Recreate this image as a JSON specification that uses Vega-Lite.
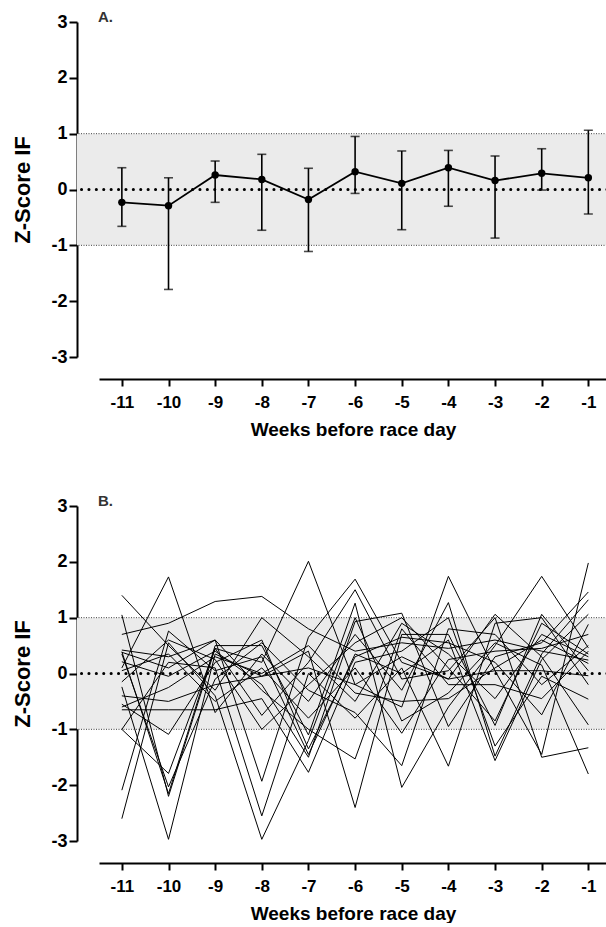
{
  "$schema": "https://vega.github.io/schema/vega-lite/v6.json",
  "background": "white",
  "padding": {"left": 11, "top": 10, "right": 0, "bottom": 0},
  "config": {
    "view": {"stroke": null},
    "font": "Liberation Sans",
    "concat": {"spacing": 55},
    "axis": {"grid": false, "domainColor": "black", "domainWidth": 2, "tickColor": "black", "tickWidth": 2,
      "labelFont": "Liberation Sans", "labelFontWeight": "bold", "labelColor": "black",
      "titleFont": "Liberation Sans", "titleFontWeight": "bold", "titleColor": "black"}
  },
  "datasets": {
    "band": [{"lo": -1, "hi": 1}],
    "edges": [{"v": -1}, {"v": 1}],
    "meanA": [
      {"week": -11, "mean": -0.23, "lo": -0.66, "hi": 0.39},
      {"week": -10, "mean": -0.29, "lo": -1.79, "hi": 0.21},
      {"week": -9, "mean": 0.26, "lo": -0.23, "hi": 0.51},
      {"week": -8, "mean": 0.18, "lo": -0.73, "hi": 0.63},
      {"week": -7, "mean": -0.18, "lo": -1.11, "hi": 0.38},
      {"week": -6, "mean": 0.32, "lo": -0.07, "hi": 0.95},
      {"week": -5, "mean": 0.11, "lo": -0.72, "hi": 0.69},
      {"week": -4, "mean": 0.39, "lo": -0.30, "hi": 0.70},
      {"week": -3, "mean": 0.16, "lo": -0.87, "hi": 0.60},
      {"week": -2, "mean": 0.29, "lo": -0.01, "hi": 0.73},
      {"week": -1, "mean": 0.21, "lo": -0.44, "hi": 1.06}
    ],
    "linesB": [
      {"s":1,"w":-11,"z":1.40},{"s":1,"w":-10,"z":0.50},{"s":1,"w":-9,"z":-0.30},{"s":1,"w":-8,"z":1.00},{"s":1,"w":-7,"z":0.30},{"s":1,"w":-6,"z":-0.50},{"s":1,"w":-5,"z":0.90},{"s":1,"w":-4,"z":0.35},{"s":1,"w":-3,"z":-0.45},{"s":1,"w":-2,"z":0.70},{"s":1,"w":-1,"z":0.30},
      {"s":2,"w":-11,"z":1.05},{"s":2,"w":-10,"z":-2.20},{"s":2,"w":-9,"z":0.45},{"s":2,"w":-8,"z":0.20},{"s":2,"w":-7,"z":2.01},{"s":2,"w":-6,"z":-0.20},{"s":2,"w":-5,"z":-0.60},{"s":2,"w":-4,"z":1.74},{"s":2,"w":-3,"z":0.05},{"s":2,"w":-2,"z":-1.45},{"s":2,"w":-1,"z":1.98},
      {"s":3,"w":-11,"z":0.70},{"s":3,"w":-10,"z":0.90},{"s":3,"w":-9,"z":1.29},{"s":3,"w":-8,"z":1.38},{"s":3,"w":-7,"z":0.80},{"s":3,"w":-6,"z":0.40},{"s":3,"w":-5,"z":0.55},{"s":3,"w":-4,"z":0.45},{"s":3,"w":-3,"z":0.60},{"s":3,"w":-2,"z":0.40},{"s":3,"w":-1,"z":0.24},
      {"s":4,"w":-11,"z":0.42},{"s":4,"w":-10,"z":0.30},{"s":4,"w":-9,"z":0.60},{"s":4,"w":-8,"z":-1.93},{"s":4,"w":-7,"z":0.65},{"s":4,"w":-6,"z":1.69},{"s":4,"w":-5,"z":0.20},{"s":4,"w":-4,"z":-0.10},{"s":4,"w":-3,"z":1.06},{"s":4,"w":-2,"z":0.30},{"s":4,"w":-1,"z":-0.92},
      {"s":5,"w":-11,"z":0.39},{"s":5,"w":-10,"z":-2.15},{"s":5,"w":-9,"z":0.50},{"s":5,"w":-8,"z":0.50},{"s":5,"w":-7,"z":-1.10},{"s":5,"w":-6,"z":1.26},{"s":5,"w":-5,"z":-2.04},{"s":5,"w":-4,"z":-0.60},{"s":5,"w":-3,"z":0.50},{"s":5,"w":-2,"z":1.74},{"s":5,"w":-1,"z":0.46},
      {"s":6,"w":-11,"z":0.21},{"s":6,"w":-10,"z":-0.05},{"s":6,"w":-9,"z":0.40},{"s":6,"w":-8,"z":-0.20},{"s":6,"w":-7,"z":-1.50},{"s":6,"w":-6,"z":0.93},{"s":6,"w":-5,"z":1.08},{"s":6,"w":-4,"z":-0.95},{"s":6,"w":-3,"z":0.30},{"s":6,"w":-2,"z":0.55},{"s":6,"w":-1,"z":1.46},
      {"s":7,"w":-11,"z":0.10},{"s":7,"w":-10,"z":1.73},{"s":7,"w":-9,"z":-0.70},{"s":7,"w":-8,"z":0.35},{"s":7,"w":-7,"z":-0.50},{"s":7,"w":-6,"z":0.70},{"s":7,"w":-5,"z":-0.30},{"s":7,"w":-4,"z":1.27},{"s":7,"w":-3,"z":-1.48},{"s":7,"w":-2,"z":0.35},{"s":7,"w":-1,"z":1.32},
      {"s":8,"w":-11,"z":-0.24},{"s":8,"w":-10,"z":-2.97},{"s":8,"w":-9,"z":0.35},{"s":8,"w":-8,"z":-0.05},{"s":8,"w":-7,"z":0.40},{"s":8,"w":-6,"z":-2.40},{"s":8,"w":-5,"z":0.70},{"s":8,"w":-4,"z":0.70},{"s":8,"w":-3,"z":-0.93},{"s":8,"w":-2,"z":1.06},{"s":8,"w":-1,"z":0.05},
      {"s":9,"w":-11,"z":-0.55},{"s":9,"w":-10,"z":-1.09},{"s":9,"w":-9,"z":0.20},{"s":9,"w":-8,"z":0.60},{"s":9,"w":-7,"z":-1.35},{"s":9,"w":-6,"z":0.30},{"s":9,"w":-5,"z":0.65},{"s":9,"w":-4,"z":0.55},{"s":9,"w":-3,"z":0.20},{"s":9,"w":-2,"z":-0.74},{"s":9,"w":-1,"z":0.88},
      {"s":10,"w":-11,"z":-0.65},{"s":10,"w":-10,"z":-0.65},{"s":10,"w":-9,"z":-0.65},{"s":10,"w":-8,"z":-0.45},{"s":10,"w":-7,"z":-1.77},{"s":10,"w":-6,"z":0.20},{"s":10,"w":-5,"z":0.40},{"s":10,"w":-4,"z":1.00},{"s":10,"w":-3,"z":-1.30},{"s":10,"w":-2,"z":-0.05},{"s":10,"w":-1,"z":-0.46},
      {"s":11,"w":-11,"z":-1.00},{"s":11,"w":-10,"z":-1.79},{"s":11,"w":-9,"z":0.45},{"s":11,"w":-8,"z":-0.75},{"s":11,"w":-7,"z":0.20},{"s":11,"w":-6,"z":1.50},{"s":11,"w":-5,"z":-0.10},{"s":11,"w":-4,"z":0.05},{"s":11,"w":-3,"z":1.00},{"s":11,"w":-2,"z":-1.50},{"s":11,"w":-1,"z":-1.33},
      {"s":12,"w":-11,"z":-1.00},{"s":12,"w":-10,"z":0.20},{"s":12,"w":-9,"z":0.10},{"s":12,"w":-8,"z":-2.55},{"s":12,"w":-7,"z":0.00},{"s":12,"w":-6,"z":-0.80},{"s":12,"w":-5,"z":0.10},{"s":12,"w":-4,"z":-1.66},{"s":12,"w":-3,"z":0.90},{"s":12,"w":-2,"z":1.00},{"s":12,"w":-1,"z":-0.20},
      {"s":13,"w":-11,"z":-2.09},{"s":13,"w":-10,"z":0.76},{"s":13,"w":-9,"z":0.05},{"s":13,"w":-8,"z":0.30},{"s":13,"w":-7,"z":-1.45},{"s":13,"w":-6,"z":0.35},{"s":13,"w":-5,"z":0.00},{"s":13,"w":-4,"z":0.60},{"s":13,"w":-3,"z":-1.56},{"s":13,"w":-2,"z":0.25},{"s":13,"w":-1,"z":1.06},
      {"s":14,"w":-11,"z":-2.60},{"s":14,"w":-10,"z":0.55},{"s":14,"w":-9,"z":-0.40},{"s":14,"w":-8,"z":-2.97},{"s":14,"w":-7,"z":-1.20},{"s":14,"w":-6,"z":1.00},{"s":14,"w":-5,"z":-0.85},{"s":14,"w":-4,"z":-0.35},{"s":14,"w":-3,"z":0.55},{"s":14,"w":-2,"z":0.15},{"s":14,"w":-1,"z":-1.80},
      {"s":15,"w":-11,"z":0.35},{"s":15,"w":-10,"z":-2.03},{"s":15,"w":-9,"z":-0.10},{"s":15,"w":-8,"z":0.55},{"s":15,"w":-7,"z":-0.30},{"s":15,"w":-6,"z":-0.70},{"s":15,"w":-5,"z":-1.65},{"s":15,"w":-4,"z":0.80},{"s":15,"w":-3,"z":0.70},{"s":15,"w":-2,"z":-0.20},{"s":15,"w":-1,"z":0.50},
      {"s":16,"w":-11,"z":-0.15},{"s":16,"w":-10,"z":0.60},{"s":16,"w":-9,"z":0.25},{"s":16,"w":-8,"z":-1.00},{"s":16,"w":-7,"z":-0.20},{"s":16,"w":-6,"z":0.55},{"s":16,"w":-5,"z":1.00},{"s":16,"w":-4,"z":0.10},{"s":16,"w":-3,"z":-0.85},{"s":16,"w":-2,"z":0.90},{"s":16,"w":-1,"z":0.35},
      {"s":17,"w":-11,"z":0.05},{"s":17,"w":-10,"z":0.35},{"s":17,"w":-9,"z":-0.50},{"s":17,"w":-8,"z":0.10},{"s":17,"w":-7,"z":-0.80},{"s":17,"w":-6,"z":0.10},{"s":17,"w":-5,"z":-1.07},{"s":17,"w":-4,"z":0.25},{"s":17,"w":-3,"z":0.40},{"s":17,"w":-2,"z":0.45},{"s":17,"w":-1,"z":0.70},
      {"s":18,"w":-11,"z":-0.60},{"s":18,"w":-10,"z":-0.25},{"s":18,"w":-9,"z":0.30},{"s":18,"w":-8,"z":0.00},{"s":18,"w":-7,"z":0.50},{"s":18,"w":-6,"z":-0.35},{"s":18,"w":-5,"z":-0.50},{"s":18,"w":-4,"z":-0.45},{"s":18,"w":-3,"z":0.10},{"s":18,"w":-2,"z":0.60},{"s":18,"w":-1,"z":0.18},
      {"s":19,"w":-11,"z":0.38},{"s":19,"w":-10,"z":0.10},{"s":19,"w":-9,"z":0.60},{"s":19,"w":-8,"z":-0.30},{"s":19,"w":-7,"z":-1.00},{"s":19,"w":-6,"z":-1.53},{"s":19,"w":-5,"z":0.80},{"s":19,"w":-4,"z":-0.20},{"s":19,"w":-3,"z":-0.20},{"s":19,"w":-2,"z":-0.45},{"s":19,"w":-1,"z":0.40},
      {"s":20,"w":-11,"z":-0.40},{"s":20,"w":-10,"z":-0.50},{"s":20,"w":-9,"z":-0.20},{"s":20,"w":-8,"z":-0.05},{"s":20,"w":-7,"z":0.10},{"s":20,"w":-6,"z":-0.20},{"s":20,"w":-5,"z":0.30},{"s":20,"w":-4,"z":-0.10},{"s":20,"w":-3,"z":0.05},{"s":20,"w":-2,"z":0.05},{"s":20,"w":-1,"z":-0.04}
    ]
  },
  "vconcat": [
    {
      "width": 530, "height": 335,
      "title": {"text": "A.", "anchor": "start", "frame": "group", "dx": 21, "offset": -12, "fontSize": 15, "fontWeight": "bold", "color": "#333333", "font": "Liberation Sans"},
      "layer": [
        {"data": {"name": "band"}, "mark": {"type": "rect", "color": "#ebebeb"},
          "encoding": {
            "y": {"field": "lo", "type": "quantitative", "title": "Z-Score IF", "scale": {"domain": [-3, 3], "nice": false, "zero": false},
              "axis": {"values": [-3, -2, -1, 0, 1, 2, 3], "labelExpr": "'' + datum.value", "tickSize": 8, "labelPadding": 2, "labelFontSize": 18, "titleFontSize": 22, "titlePadding": 16}},
            "y2": {"field": "hi"}}},
        {"data": {"name": "edges"}, "mark": {"type": "rule", "color": "#444444", "strokeWidth": 1, "strokeDash": [1, 1.5]},
          "encoding": {"y": {"field": "v", "type": "quantitative", "title": "Z-Score IF"}}},
        {"data": {"name": "band"}, "mark": {"type": "rule", "color": "black", "strokeWidth": 3, "strokeCap": "round", "strokeDash": [0.1, 7.3]},
          "encoding": {"y": {"datum": 0, "type": "quantitative", "title": "Z-Score IF"}}},
        {"data": {"name": "meanA"}, "mark": {"type": "errorbar", "color": "black", "ticks": {"size": 9, "thickness": 1.6}, "rule": {"strokeWidth": 1.6}},
          "encoding": {
            "x": {"field": "week", "type": "quantitative", "title": "Weeks before race day", "scale": {"domain": [-11.49, -0.6], "range": [22, 530], "nice": false, "zero": false},
              "axis": {"values": [-11, -10, -9, -8, -7, -6, -5, -4, -3, -2, -1], "labelExpr": "'' + datum.value", "offset": 22, "tickSize": 7, "labelPadding": 8, "labelFontSize": 17, "titleFontSize": 19, "titlePadding": 10}},
            "y": {"field": "lo", "type": "quantitative", "title": "Z-Score IF"}, "y2": {"field": "hi"}}},
        {"data": {"name": "meanA"}, "mark": {"type": "line", "color": "black", "strokeWidth": 1.8},
          "encoding": {"x": {"field": "week", "type": "quantitative", "title": "Weeks before race day"}, "y": {"field": "mean", "type": "quantitative", "title": "Z-Score IF"}}},
        {"data": {"name": "meanA"}, "mark": {"type": "point", "filled": true, "color": "black", "opacity": 1, "size": 55},
          "encoding": {"x": {"field": "week", "type": "quantitative", "title": "Weeks before race day"}, "y": {"field": "mean", "type": "quantitative", "title": "Z-Score IF"}}}
      ]
    },
    {
      "width": 530, "height": 335,
      "title": {"text": "B.", "anchor": "start", "frame": "group", "dx": 21, "offset": -12, "fontSize": 15, "fontWeight": "bold", "color": "#333333", "font": "Liberation Sans"},
      "layer": [
        {"data": {"name": "band"}, "mark": {"type": "rect", "color": "#ebebeb"},
          "encoding": {
            "y": {"field": "lo", "type": "quantitative", "title": "Z-Score IF", "scale": {"domain": [-3, 3], "nice": false, "zero": false},
              "axis": {"values": [-3, -2, -1, 0, 1, 2, 3], "labelExpr": "'' + datum.value", "tickSize": 8, "labelPadding": 2, "labelFontSize": 18, "titleFontSize": 22, "titlePadding": 16}},
            "y2": {"field": "hi"}}},
        {"data": {"name": "edges"}, "mark": {"type": "rule", "color": "#444444", "strokeWidth": 1, "strokeDash": [1, 1.5]},
          "encoding": {"y": {"field": "v", "type": "quantitative", "title": "Z-Score IF"}}},
        {"data": {"name": "linesB"}, "mark": {"type": "line", "color": "black", "strokeWidth": 1},
          "encoding": {
            "x": {"field": "w", "type": "quantitative", "title": "Weeks before race day", "scale": {"domain": [-11.49, -0.6], "range": [22, 530], "nice": false, "zero": false},
              "axis": {"values": [-11, -10, -9, -8, -7, -6, -5, -4, -3, -2, -1], "labelExpr": "'' + datum.value", "offset": 22, "tickSize": 7, "labelPadding": 8, "labelFontSize": 17, "titleFontSize": 19, "titlePadding": 10}},
            "y": {"field": "z", "type": "quantitative", "title": "Z-Score IF"},
            "detail": {"field": "s", "type": "nominal"}}},
        {"data": {"name": "band"}, "mark": {"type": "rule", "color": "black", "strokeWidth": 3, "strokeCap": "round", "strokeDash": [0.1, 7.3]},
          "encoding": {"y": {"datum": 0, "type": "quantitative", "title": "Z-Score IF"}}}
      ]
    }
  ]
}
